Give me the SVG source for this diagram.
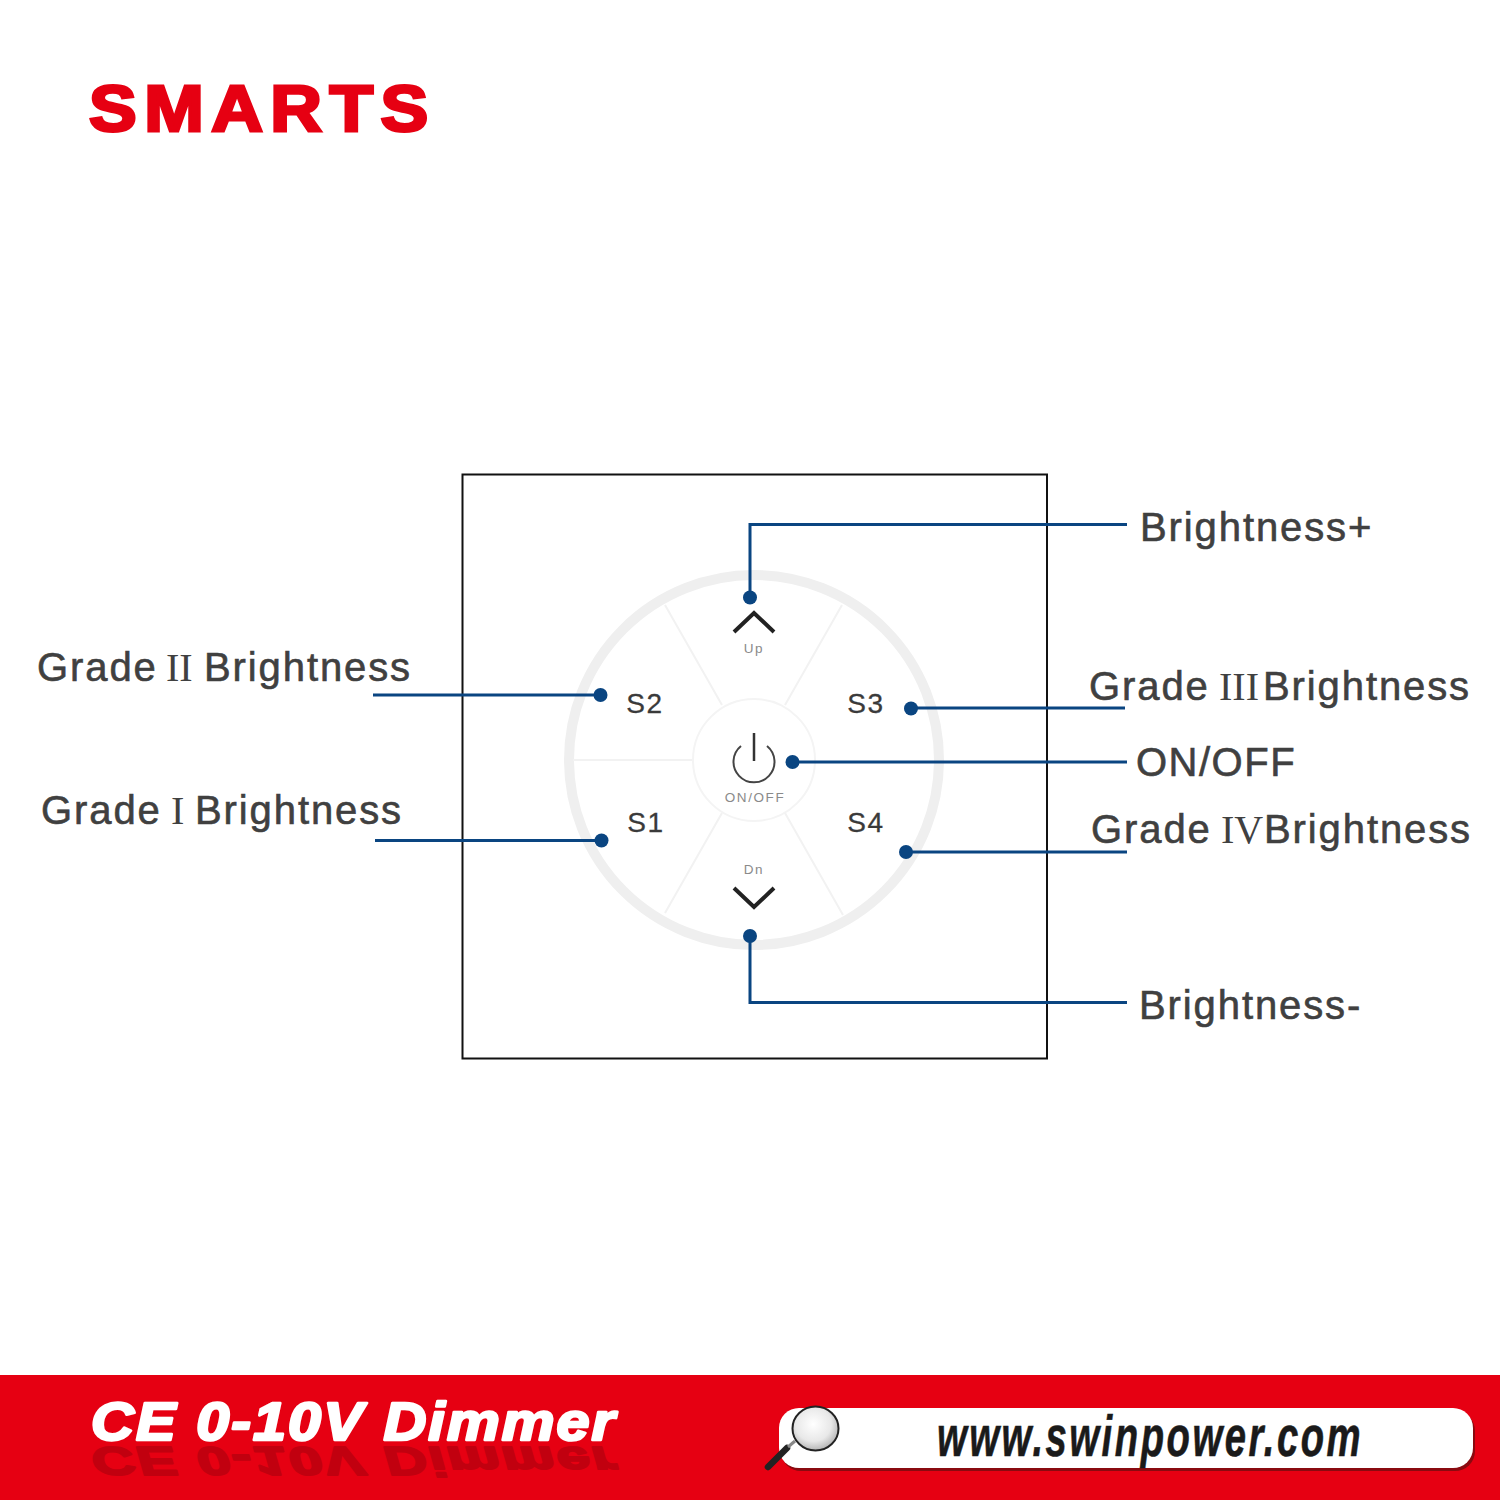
<svg xmlns="http://www.w3.org/2000/svg" width="1500" height="1500" viewBox="0 0 1500 1500">
<style>
.lbl{font-family:"Liberation Sans",Arial,sans-serif;font-size:40px;fill:#404040;stroke:#404040;stroke-width:.6px;letter-spacing:1.9px}
.rom{font-family:"Liberation Serif","Times New Roman",serif;letter-spacing:0;stroke-width:0}
.key{font-family:"Liberation Sans",Arial,sans-serif;font-size:28px;fill:#3a3a3a;stroke:#3a3a3a;stroke-width:.3px;letter-spacing:1.6px;text-anchor:middle}
.sm{font-family:"Liberation Sans",Arial,sans-serif;font-size:13.5px;fill:#8a8a8a;letter-spacing:1.6px;text-anchor:middle}
.div{stroke:#f2f2f2;stroke-width:2;fill:none}
.chev{stroke:#222;stroke-width:4;fill:none}
.con{stroke:#0a4581;stroke-width:3;fill:none}
.dot{fill:#0a4581}
.title{font-family:"Liberation Sans",Arial,sans-serif;font-weight:bold;font-style:italic;font-size:53px;stroke-width:2.6px;stroke-linejoin:round;letter-spacing:1.85px}
</style>
<defs>
<radialGradient id="lens" cx="45%" cy="40%" r="65%"><stop offset="0" stop-color="#fff"/><stop offset="0.6" stop-color="#e8e8e8"/><stop offset="1" stop-color="#aaa"/></radialGradient>
</defs>
<rect width="1500" height="1500" fill="#fff"/>
<text id="brand" transform="translate(89 131) scale(1.1 1)" font-family="'Liberation Sans',Arial,sans-serif" font-weight="bold" font-size="65" fill="#e60012" stroke="#e60012" stroke-width="3" letter-spacing="6.800">SMARTS</text>

<g id="panel">
<rect x="462.500" y="474.500" width="584.500" height="584" fill="#fff" stroke="#111" stroke-width="2"/>
<circle cx="754" cy="760" r="185" fill="none" stroke="#efefef" stroke-width="10"/>
<circle cx="754" cy="760" r="61" fill="none" stroke="#f4f4f4" stroke-width="2"/>
<path class="div" d="M665 605L722 705M842 605L785 705M573 760H692M722 813L665 913M785 813L843 915"/>
</g>
<g id="btn-up"><path class="chev" d="M734 632L754 613L774 632"/><text class="sm" x="754" y="653">Up</text></g>
<g id="btn-dn"><path class="chev" d="M734 888L754 907L774 888"/><text class="sm" x="754" y="874">Dn</text></g>
<g id="btn-s2"><text class="key" x="645" y="713">S2</text></g>
<g id="btn-s1"><text class="key" x="646" y="832">S1</text></g>
<g id="btn-s3"><text class="key" x="866" y="713">S3</text></g>
<g id="btn-s4"><text class="key" x="866" y="832">S4</text></g>
<g id="btn-power">
<path d="M741 746A20.500 20.500 0 1 0 767 746" fill="none" stroke="#444" stroke-width="2"/>
<path d="M754 733V761" fill="none" stroke="#333" stroke-width="2.500"/>
<text class="sm" x="755" y="802">ON/OFF</text>
</g>

<g id="connectors">
<path class="con" d="M1127 524.500H750V597"/>
<path class="con" d="M373 695H600"/>
<path class="con" d="M375 840.500H601"/>
<path class="con" d="M911 708H1125"/>
<path class="con" d="M792 762H1127"/>
<path class="con" d="M906 852H1127"/>
<path class="con" d="M750 936V1002.500H1127"/>
<circle class="dot" cx="750" cy="597.500" r="7"/>
<circle class="dot" cx="600.500" cy="695" r="7"/>
<circle class="dot" cx="601.500" cy="840.500" r="7"/>
<circle class="dot" cx="911" cy="708.500" r="7"/>
<circle class="dot" cx="792.500" cy="762" r="7"/>
<circle class="dot" cx="906" cy="852" r="7"/>
<circle class="dot" cx="750" cy="936" r="7"/>
</g>

<g id="label-up"><text class="lbl" x="1140" y="541">Brightness+</text></g>
<g id="label-s2"><text class="lbl" x="37" y="681">Grade<tspan class="rom" x="166">II</tspan><tspan x="204">Brightness</tspan></text></g>
<g id="label-s1"><text class="lbl" x="41" y="824">Grade<tspan class="rom" x="171">I</tspan><tspan x="195">Brightness</tspan></text></g>
<g id="label-s3"><text class="lbl" x="1089" y="700">Grade<tspan class="rom" x="1219">III</tspan><tspan x="1263">Brightness</tspan></text></g>
<g id="label-power"><text class="lbl" x="1136" y="776" style="letter-spacing:1.500px">ON/OFF</text></g>
<g id="label-s4"><text class="lbl" x="1091" y="843">Grade<tspan class="rom" x="1221">IV</tspan><tspan x="1264">Brightness</tspan></text></g>
<g id="label-dn"><text class="lbl" x="1139" y="1019">Brightness-</text></g>

<g id="banner">
<rect x="0" y="1375" width="1500" height="125" fill="#e60012"/>
<text class="title" transform="translate(91 1447) scale(1.12 -.76)" fill="#c1000f" stroke="#c1000f">CE 0-10V Dimmer</text>
<text class="title" transform="translate(91 1440) scale(1.12 1)" fill="#fff" stroke="#fff">CE 0-10V Dimmer</text>
<rect x="781" y="1411" width="694" height="60" rx="20" fill="#8a0a10"/>
<rect x="779" y="1408" width="694" height="60" rx="20" fill="#fff"/>
<text transform="translate(937 1456) scale(.66 1)" font-family="'Liberation Sans',Arial,sans-serif" font-weight="bold" font-style="italic" font-size="58" fill="#1a1a1a" stroke="#1a1a1a" stroke-width=".6" letter-spacing="3.800">www.swinpower.com</text>
<path d="M768 1467L787 1448" stroke="#222" stroke-width="6.500" stroke-linecap="round"/>
<path d="M788 1447L795 1441" stroke="#888" stroke-width="3"/>
<ellipse cx="815.500" cy="1428.500" rx="23" ry="22" fill="url(#lens)" stroke="#222" stroke-width="2"/>
</g>
</svg>
